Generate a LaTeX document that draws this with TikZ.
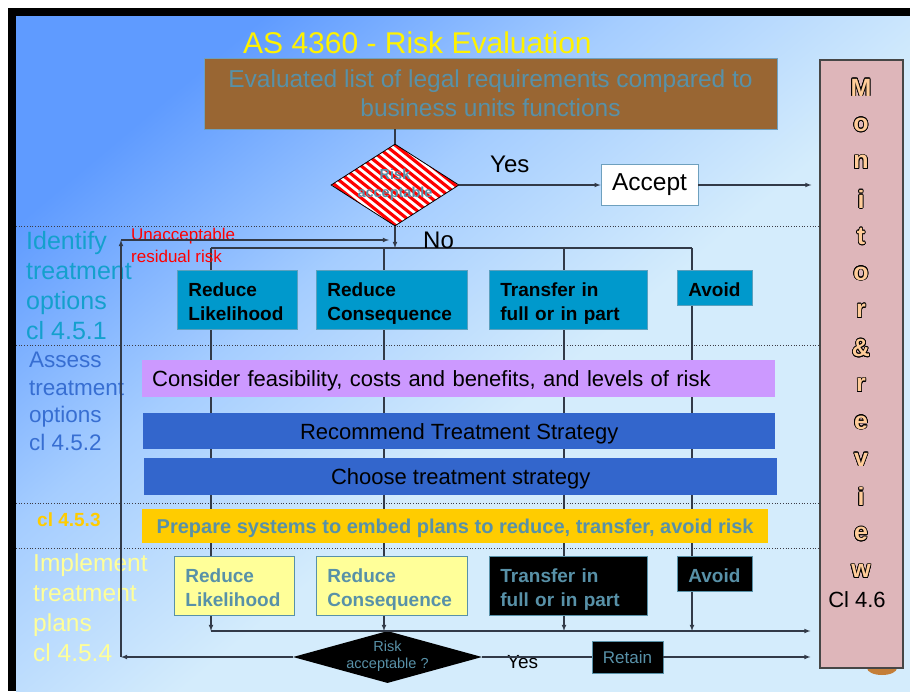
\documentclass[tikz,border=0pt]{standalone}
\usepackage{fontspec}
\setmainfont{Liberation Sans}
\usepackage{contour}
\usetikzlibrary{shapes.geometric}

\definecolor{bgdark}{RGB}{95,155,255}
\definecolor{bgmid}{RGB}{165,205,255}
\definecolor{bglight}{RGB}{212,236,252}
\definecolor{evalbrown}{RGB}{153,102,51}
\definecolor{evaledge}{RGB}{110,160,190}
\definecolor{steel}{RGB}{88,145,168}
\definecolor{optfill}{RGB}{0,153,204}
\definecolor{optedge}{RGB}{90,160,190}
\definecolor{planyellow}{RGB}{255,255,153}
\definecolor{considerpurple}{RGB}{204,153,255}
\definecolor{stratblue}{RGB}{51,102,204}
\definecolor{prepgold}{RGB}{255,204,0}
\definecolor{identcol}{RGB}{20,160,205}
\definecolor{assesscol}{RGB}{55,110,210}
\definecolor{monpink}{RGB}{222,182,186}
\definecolor{mongray}{RGB}{70,70,70}
\definecolor{peach}{RGB}{255,204,153}
\definecolor{blobbrown}{RGB}{196,126,56}
\definecolor{linecol}{RGB}{50,58,72}
\definecolor{sepcol}{RGB}{60,60,70}

\pgfdeclarehorizontalshading{slidebg}{100bp}{color(0bp)=(bgdark); color(25bp)=(bgdark); color(40bp)=(bgmid); color(55bp)=(bglight); color(100bp)=(bglight)}

\newcommand{\fsz}[2]{\fontsize{#1}{#2}\selectfont}
\newcommand{\twoline}[2]{\makebox[0pt]{\begin{tabular}{@{}c@{}}#1\\#2\end{tabular}}}
\contourlength{0.7pt}

\begin{document}
\begin{tikzpicture}[
		x=1pt, y=-1pt,
		conn/.style={draw=linecol, line width=1.1pt},
		sepline/.style={draw=sepcol, dotted, line width=0.7pt},
		optbox/.style={anchor=north west, fill=optfill, draw=optedge, line width=0.8pt, inner xsep=11pt, inner ysep=0pt, align=left, text height=20pt, font=\bfseries\fsz{19}{24}},
		taskbar/.style={anchor=north west, inner sep=0pt, text depth=0pt, font=\fsz{22}{26}},
		stage/.style={anchor=north west, inner sep=0pt, align=left},
		monletter/.style={inner sep=0pt, font=\bfseries\fsz{25}{25}},
		tag/.style={anchor=base west, inner sep=0pt},
	]
		\useasboundingbox (0,0) rectangle (910,691);
		\fill[white] (0,0) rectangle (910,691);
		\shade[shading=slidebg, shading angle=-50] (16,16) rectangle (910,691);
		\fill[black] (8,8) rectangle (910,16);
		\fill[black] (8,8) rectangle (16,691);
		
		\foreach \y in {226,345.5,503,548}{
			\draw[sepline] (16,\y) -- (820,\y);
		}
		
		\foreach \n/\x in {1/211, 2/384, 3/564, 4/692}{
			\coordinate (top\n) at (\x,248);
			\coordinate (bot\n) at (\x,631);
			\draw[conn,-latex] (top\n) -- (bot\n);
		}
		\draw[conn] (top1) -- (top4);
		
		\node[tag, text=yellow, font=\fsz{30}{34}] (title) at (243,53) {AS 4360 - Risk Evaluation};
		\node[fill=evalbrown, draw=evaledge, minimum width=573, minimum height=71, inner sep=0pt, align=center, text=steel, font=\fsz{24.5}{29}] (evallist) at (490.5,93.5) {Evaluated list of legal requirements compared to\\business units functions};
		\node[diamond, draw=black, line width=0.8pt, fill=white, minimum width=128, minimum height=82, inner sep=0pt, text=steel, font=\bfseries\fsz{14.5}{18},
			path picture={\foreach \k in {-14,...,14}{\draw[red, line width=3.2pt] ([shift={(\k*10-60,-48)}]path picture bounding box.center) -- ++(120,96);}}] (risk1) at (395,185) {\twoline{Risk}{acceptable}};
		\node[draw=evaledge, fill=white, line width=0.8pt, minimum width=97, minimum height=41, inner sep=0pt, font=\fsz{24.5}{28}] (accept) at (649.5,185) {Accept};
		\node[tag, font=\fsz{24}{28}] (yestop) at (490,172) {Yes};
		\node[tag, font=\fsz{24}{28}] (notop) at (423,248) {No};
		
		\fill[blobbrown] (882,668) ellipse [x radius=15, y radius=7];
		\node[draw=mongray, line width=1.2pt, fill=monpink, minimum width=83, minimum height=608, inner sep=0pt] (monitor) at (861.5,364) {};
		\foreach \ch [count=\i from 0] in {M,o,n,i,t,o,r,\&,r,e,v,i,e,w}{
			\node[monletter] (mon\i) at (861,{88+37.2*\i}) {\contour{black}{\textcolor{peach}{\ch}}};
		}
		\node[inner sep=0pt, font=\fsz{22}{26}] (clmon) at (857,600) {Cl 4.6};
		
		\node[stage, text=identcol, font=\fsz{25}{30}] (identify) at (26,231) {Identify\\treatment\\options\\cl 4.5.1};
		\node[stage, text=assesscol, font=\fsz{22.5}{27.5}] (assess) at (29,352) {Assess\\treatment\\options\\cl 4.5.2};
		\node[tag, text=prepgold, font=\bfseries\fsz{19}{22}] (prepcl) at (37,526) {cl 4.5.3};
		\node[stage, text=planyellow, font=\fsz{24.5}{30}] (implement) at (33,554) {Implement\\treatment\\plans\\cl 4.5.4};
		\node[stage, text=red, font=\fsz{17}{21.7}] (unaccept) at (131,228) {Unacceptable\\residual risk};
		
		\foreach \nm/\x/\xb/\w/\tw/\h/\td/\pf/\txt in {
			likeli/177/174/120/98/59/27/planyellow/{Reduce\\Likelihood},
			conseq/316/316/151/129/59/27/planyellow/{Reduce\\Consequence},
			transfer/489/489/158/136/59/27/black/{Transfer in\\full or in part},
			avoid/677/677/75/53/35/3/black/{Avoid}}{
			\node[optbox, minimum width=\w, text width=\tw, minimum height=\h, text depth=\td] (opt-\nm) at (\x,270) {\txt};
			\node[optbox, fill=\pf, draw=steel, text=steel, minimum width=\w, text width=\tw, minimum height=\h, text depth=\td] (plan-\nm) at (\xb,556) {\txt};
		}
		
		\node[taskbar, fill=considerpurple, minimum width=633, minimum height=37, text width=613, inner xsep=10pt, align=left] (consider) at (142,360) {Consider feasibility, costs and benefits, and levels of risk};
		\node[taskbar, fill=stratblue, minimum width=632, minimum height=36] (recommend) at (143,413) {Recommend Treatment Strategy};
		\node[taskbar, fill=stratblue, minimum width=633, minimum height=37] (choose) at (144,458) {Choose treatment strategy};
		\node[taskbar, fill=prepgold, minimum width=626, minimum height=34, text=steel, font=\bfseries\fsz{20}{24}] (prepare) at (142,509) {Prepare systems to embed plans to reduce, transfer, avoid risk};
		
		\node[diamond, fill=black, minimum width=189, minimum height=52, inner sep=0pt, text=steel, font=\fsz{14.5}{17}] (risk2) at (387.5,657) {\twoline{Risk}{acceptable ?}};
		\node[draw=steel, fill=black, line width=0.8pt, minimum width=71, minimum height=32, inner sep=0pt, text=steel, font=\fsz{17}{20}] (retain) at (627.5,657) {Retain};
		\node[tag, font=\fsz{19}{22}] (yesbot) at (507,668) {Yes};
		
		\coordinate (nojoin) at (risk1.south |- top1);
		\coordinate (loopbot) at (121,657);
		\coordinate (looptop) at (121,240);
		\draw[conn] (risk1.north |- evallist.south) -- (risk1.north);
		\draw[conn,-latex] (risk1.east) -- (accept.west);
		\draw[conn,-latex,shorten >=8pt] (accept.east) -- (monitor.west |- accept.east);
		\draw[conn,-latex] (risk1.south) -- (nojoin);
		\draw[conn,-latex,shorten >=9pt] (bot1) -- (monitor.west |- bot1);
		\draw[conn] (risk2.east) -- (retain.west);
		\draw[conn,-latex,shorten >=9pt] (retain.east) -- (monitor.west |- retain.east);
		\draw[conn,-latex] (risk2.west) -- (loopbot);
		\draw[conn,-latex] (loopbot) -- (looptop);
		\draw[conn,-latex,shorten >=6pt] (looptop) -- (nojoin |- looptop);
	\end{tikzpicture}
\end{document}
